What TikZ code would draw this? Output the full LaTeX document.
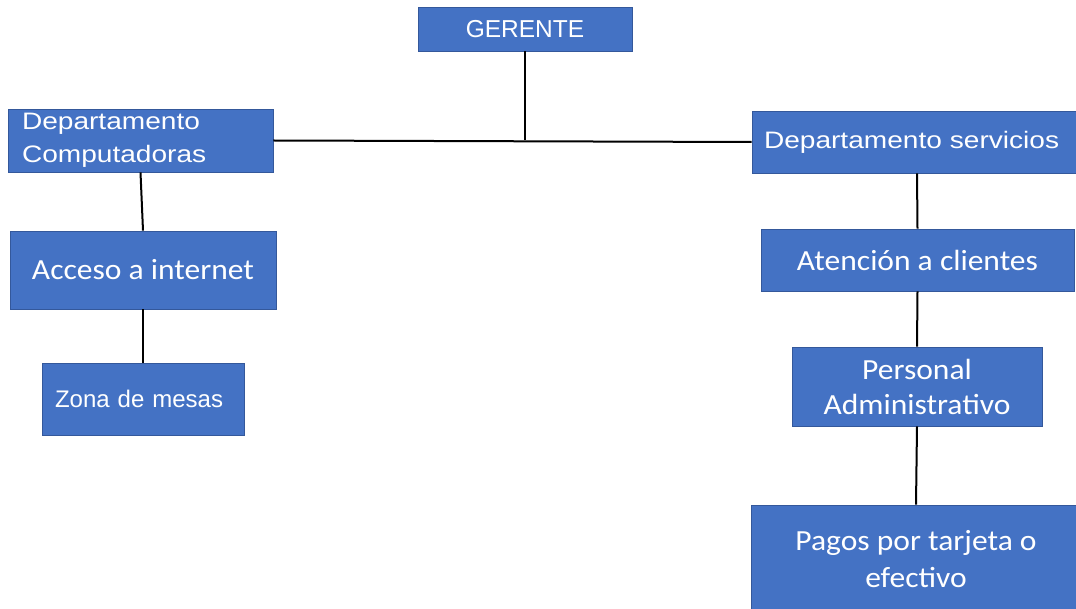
\documentclass[tikz,border=0pt]{standalone}
\usepackage{fontspec}
\setmainfont{Liberation Sans}
\newfontfamily\widearial[FakeStretch=1.18]{Liberation Sans}
\newfontfamily\calibrifont[FakeStretch=1.08]{Carlito}
\definecolor{boxblue}{RGB}{68,114,196}
\definecolor{boxedge}{RGB}{52,88,155}
\begin{document}
\begin{tikzpicture}[x=1pt,y=-1pt,
    unit/.style={fill=boxblue, draw=boxedge, line width=0.8pt, text=white,
      inner sep=0pt, align=center},
    link/.style={line width=2pt, black}]
  \useasboundingbox (0,0) rectangle (1076,609);

  % Gerente
  \node[unit, minimum width=214pt, minimum height=44pt,
    font=\fontsize{24.5}{28}\selectfont] (gerente) at (525,29) {GERENTE};

  % Departamentos
  \node[unit, minimum width=265pt, minimum height=63pt, text width=237pt,
    align=left, font=\widearial\fontsize{23.8}{33}\selectfont]
    (computadoras) at (140.5,140.5) {Departamento\\Computadoras};
  \node[unit, minimum width=330pt, minimum height=62pt, text width=306pt,
    align=left, font=\widearial\fontsize{23.8}{33}\selectfont]
    (servicios) at (917,142) {Departamento servicios};

  % Rama izquierda
  \node[unit, minimum width=266pt, minimum height=78pt,
    font=\calibrifont\fontsize{29.2}{34}\selectfont]
    (internet) at (143,270) {Acceso a internet};
  \node[unit, minimum width=202pt, minimum height=72pt, text width=176pt,
    align=left, font=\fontsize{24}{28}\selectfont]
    (mesas) at (143,399) {Zona de mesas};

  % Rama derecha
  \node[unit, minimum width=313pt, minimum height=62pt,
    font=\calibrifont\fontsize{29.2}{34}\selectfont]
    (clientes) at (917.5,260) {Atención a clientes};
  \node[unit, minimum width=250pt, minimum height=79pt,
    font=\calibrifont\fontsize{29.2}{35}\selectfont]
    (personal) at (917,386.5) {Personal\\Administrativo};
  \node[unit, minimum width=330pt, minimum height=108pt,
    font=\calibrifont\fontsize{29.2}{37}\selectfont]
    (pagos) at (916,559) {Pagos por tarjeta o\\efectivo};

  % Conexiones
  \coordinate (union) at (gerente.south |- computadoras.east);
  \draw[link] (gerente.south) -- (union);
  \draw[link] (computadoras.east) -- (servicios.west);
  \draw[link] (computadoras.south) -- (internet.north);
  \draw[link] (internet.south) -- (mesas.north);
  \draw[link] (servicios.south) -- (clientes.north);
  \draw[link] (clientes.south) -- (personal.north);
  \draw[link] (personal.south) -- (pagos.north);
\end{tikzpicture}
\end{document}
